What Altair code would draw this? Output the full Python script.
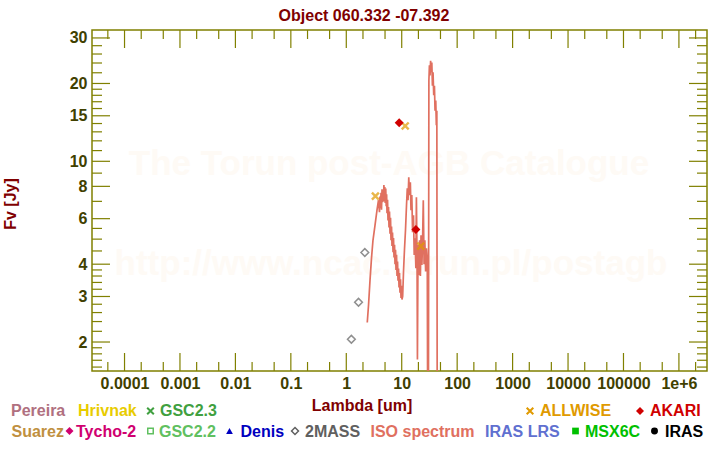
import altair as alt
import pandas as pd

# ---------------- data ----------------
iso_wl = [2.39, 2.52, 2.68, 2.85, 3.03, 3.30, 3.58, 3.81, 3.97, 4.05, 4.14, 4.23, 4.32, 4.41,
          4.50, 4.60, 4.69, 4.77, 4.85, 4.95, 5.04, 5.15, 5.25, 5.34, 5.43, 5.55, 5.66, 5.78,
          5.90, 6.02, 6.15, 6.28, 6.41, 6.55, 6.68, 6.82, 6.97, 7.11, 7.26, 7.42, 7.57, 7.73,
          7.89, 8.06, 8.23, 8.40, 8.58, 8.76, 8.94, 9.12, 9.31, 9.51, 9.71, 9.90, 10.1, 10.4,
          10.8, 11.2, 11.7, 12.2, 12.6, 13.0, 13.4, 13.8, 14.3, 14.7, 15.2, 15.7, 16.3, 16.8,
          17.4, 18.0, 18.4, 18.9, 19.2, 19.7, 20.4, 21.0, 21.7, 22.3, 23.1, 23.7, 24.5, 25.3,
          26.1, 27.0, 27.9, 28.9, 29.4, 30.3, 30.9, 31.6, 32.4, 33.2, 34.1, 34.9, 35.8, 36.7,
          37.8, 38.9, 39.9, 41.1, 42.1, 43.0, 43.7]
iso_flux = [2.38, 2.78, 3.47, 4.22, 4.95, 5.66, 6.47, 7.07, 6.36, 7.30, 6.60, 7.55, 6.50, 7.80,
            6.95, 7.65, 7.00, 8.10, 7.20, 7.95, 6.90, 7.85, 6.70, 7.45, 6.30, 7.10, 5.90, 6.65,
            5.55, 6.40, 5.25, 6.05, 4.95, 5.60, 4.70, 5.30, 4.45, 5.05, 4.25, 4.75, 4.00, 4.55,
            3.80, 4.35, 3.60, 4.10, 3.45, 3.85, 3.25, 3.70, 3.10, 3.50, 2.96, 3.30, 2.92, 3.00,
            3.80, 4.53, 5.42, 6.76, 7.87, 7.07, 8.67, 7.40, 8.30, 6.47, 7.40, 5.32, 6.19, 4.34,
            5.04, 3.86, 7.26, 4.15, 1.71, 4.74, 3.63, 4.95, 3.60, 5.18, 3.97, 4.74, 7.07, 4.00,
            4.95, 3.75, 4.61, 4.15, 1.0, 1.0, 20.5, 23.5, 21.5, 24.5, 22.1, 24.1, 19.6, 22.1,
            18.0, 19.6, 15.7, 17.2, 13.8, 15.7, 1.0]

mass_wl = [1.235, 1.662, 2.159]
mass_flux = [2.05, 2.85, 4.44]

allwise_wl = [3.35, 11.56, 22.08]
allwise_flux = [7.33, 13.7, 4.70]

akari_wl = [9.0, 18.0]
akari_flux = [14.1, 5.45]

x_major = [1e-4, 1e-3, 1e-2, 1e-1, 1, 10, 100, 1000, 1e4, 1e5, 1e6]
x_minor = [5e-5, 2e-4, 5e-4, 2e-3, 5e-3, 2e-2, 5e-2, 0.2, 0.5, 2, 5, 20, 50, 200, 500,
           2000, 5000, 2e4, 5e4, 2e5, 5e5, 2e6]
y_major = [2, 3, 4, 6, 8, 10, 15, 20, 30]
y_minor = [1.6, 1.7, 1.8, 1.9, 2.2, 2.4, 2.6, 2.8, 3.2, 3.4, 3.6, 3.8, 4.5, 5, 5.5, 7, 9,
           11, 12, 13, 14, 16, 17, 18, 19, 22, 24, 26, 28]

legend_labels = ["Pereira", "Hrivnak", "GSC2.3", "ALLWISE", "AKARI",
                 "Suarez", "Tycho-2", "GSC2.2", "Denis", "2MASS", "ISO spectrum",
                 "IRAS LRS", "MSX6C", "IRAS"]
legend_colors = ["#b07080", "#e8cc00", "#40a040", "#e09a00", "#d00000",
                 "#c09040", "#d00070", "#60c060", "#0000c0", "#606060", "#e07060",
                 "#6070d0", "#00c000", "#000000"]
legend_symbols = [None, None, "x", "x", "diamondf",
                  None, "diamondf", "square", "triangle", "diamond", None,
                  None, "squaref", "circlef"]

# ---------------- layout ----------------
W, H = 615, 341
PL, PT = 92, 30
OLIVE = "#808000"
LABEL = "#404000"
DARKRED = "#800000"
WATER = "#fefaf5"
FONT = "Liberation Sans"
XPATH = "M-1,-1L1,1M-1,1L1,-1"

xscale = alt.Scale(type="log", domain=[2.59e-5, 3.21e6], nice=False)
yscale = alt.Scale(type="log", domain=[1.545, 32.2], nice=False)
xaxis = alt.Axis(values=x_major, title=None, ticks=False, tickSize=0,
                 labelExpr="datum.value >= 999999 ? '1e+6' : format(datum.value, '~g')",
                 domain=False, grid=False, labelPadding=4, labelOverlap=False,
                 labelFlush=False)
yaxis = alt.Axis(values=y_major, format="~g", title=None, ticks=False, tickSize=0,
                 domain=False, grid=False, labelPadding=5, labelOverlap=False,
                 labelFlush=False)


def X(field):
    return alt.X(field, scale=xscale, axis=xaxis, title=None)


def Y(field):
    return alt.Y(field, scale=yscale, axis=yaxis, title=None)


one = pd.DataFrame({"a": [0]})


def txt(s, x, y, color, size=16, align="left", angle=None, baseline="alphabetic"):
    kw = dict(text=s, color=color, fontSize=size, fontWeight="bold", font=FONT,
              align=align, baseline=baseline)
    if angle is not None:
        kw["angle"] = angle
    return alt.Chart(one).mark_text(**kw).encode(
        x=alt.value(x - PL), y=alt.value(y - PT))


layers = []

# watermark
layers.append(txt("The Torun post-AGB Catalogue", 389, 175, WATER, size=35, align="center"))
layers.append(txt("http://www.ncac.torun.pl/postagb", 391, 275, WATER, size=35, align="center"))

# ISO spectrum (first data layer carries the axes)
iso = pd.DataFrame({"wl": iso_wl, "f": iso_flux})
layers.append(alt.Chart(iso).mark_line(color="#e07060", strokeWidth=1.7, clip=True).encode(
    x=X("wl:Q"), y=Y("f:Q")))

# ticks (inward, on all four sides)
dxM = pd.DataFrame({"wl": x_major})
dxm = pd.DataFrame({"wl": x_minor})
dyM = pd.DataFrame({"f": y_major})
dym = pd.DataFrame({"f": y_minor})
for d, L in ((dxM, 18), (dxm, 9)):
    layers.append(alt.Chart(d).mark_rule(color=OLIVE, strokeWidth=1.2).encode(
        x=X("wl:Q"), y=alt.value(H), y2=alt.value(H - L)))
    layers.append(alt.Chart(d).mark_rule(color=OLIVE, strokeWidth=1.2).encode(
        x=X("wl:Q"), y=alt.value(0), y2=alt.value(L)))
for d, L in ((dyM, 18), (dym, 10)):
    layers.append(alt.Chart(d).mark_rule(color=OLIVE, strokeWidth=1.2).encode(
        y=Y("f:Q"), x=alt.value(0), x2=alt.value(L)))
    layers.append(alt.Chart(d).mark_rule(color=OLIVE, strokeWidth=1.2).encode(
        y=Y("f:Q"), x=alt.value(W), x2=alt.value(W - L)))

# photometry
m2 = pd.DataFrame({"wl": mass_wl, "f": mass_flux})
layers.append(alt.Chart(m2).mark_point(shape="diamond", filled=False, color="#606060",
                                       size=60, strokeWidth=1.5).encode(
    x=X("wl:Q"), y=Y("f:Q")))
aw = pd.DataFrame({"wl": allwise_wl, "f": allwise_flux})
layers.append(alt.Chart(aw).mark_point(shape=XPATH, filled=False, color="#e09a00",
                                       size=48, strokeWidth=2.4).encode(
    x=X("wl:Q"), y=Y("f:Q")))
ak = pd.DataFrame({"wl": akari_wl, "f": akari_flux})
layers.append(alt.Chart(ak).mark_point(shape="diamond", filled=True, color="#d00000",
                                       size=80, opacity=1).encode(
    x=X("wl:Q"), y=Y("f:Q")))

# titles
layers.append(txt("Object 060.332 -07.392", 364, 21, DARKRED, align="center"))
layers.append(txt("Lambda [um]", 362, 411, DARKRED, align="center"))
layers.append(txt("Fv [Jy]", 11, 204, DARKRED, align="center", angle=270, baseline="middle"))

# legend
text_x = [11, 78, 160, 540, 650, 11.5, 76, 159, 240.5, 305, 370.5, 485, 585, 665]
rows = [0, 0, 0, 0, 0, 1, 1, 1, 1, 1, 1, 1, 1, 1]
sym_x = [None, None, 150.5, 530, 640, None, 69.5, 150.5, 229.5, 295, None, None, 575.5, 654.5]
row_base = [416, 437]
row_sym = [411, 431]
for lab, col, sym, tx, r, sx in zip(legend_labels, legend_colors, legend_symbols, text_x, rows, sym_x):
    layers.append(txt(lab, tx, row_base[r], col))
    if sym is None:
        continue
    if sym == "x":
        mk = dict(shape=XPATH, filled=False, size=44, strokeWidth=2)
    elif sym == "diamondf":
        mk = dict(shape="diamond", filled=True, size=64)
    elif sym == "diamond":
        mk = dict(shape="diamond", filled=False, size=48, strokeWidth=1.5)
    elif sym == "square":
        mk = dict(shape="square", filled=False, size=30, strokeWidth=1.5)
    elif sym == "squaref":
        mk = dict(shape="square", filled=True, size=45)
    elif sym == "triangle":
        mk = dict(shape="triangle-up", filled=True, size=45)
    else:
        mk = dict(shape="circle", filled=True, size=48)
    layers.append(alt.Chart(one).mark_point(color=col, opacity=1, **mk).encode(
        x=alt.value(sx - PL), y=alt.value(row_sym[r] - PT)))

chart = alt.layer(*layers).properties(
    width=W, height=H,
    padding={"left": PL, "top": PT, "right": 720 - PL - W, "bottom": 450 - PT - H},
    autosize=alt.AutoSizeParams(type="none"),
    background="white",
).configure_view(stroke=OLIVE, strokeWidth=1.5).configure_axis(
    labelFont=FONT, labelFontSize=16, labelFontWeight="bold", labelColor=LABEL,
).configure_text(font=FONT)

chart.save("out.html", embed_options={"renderer": "svg", "actions": False})
